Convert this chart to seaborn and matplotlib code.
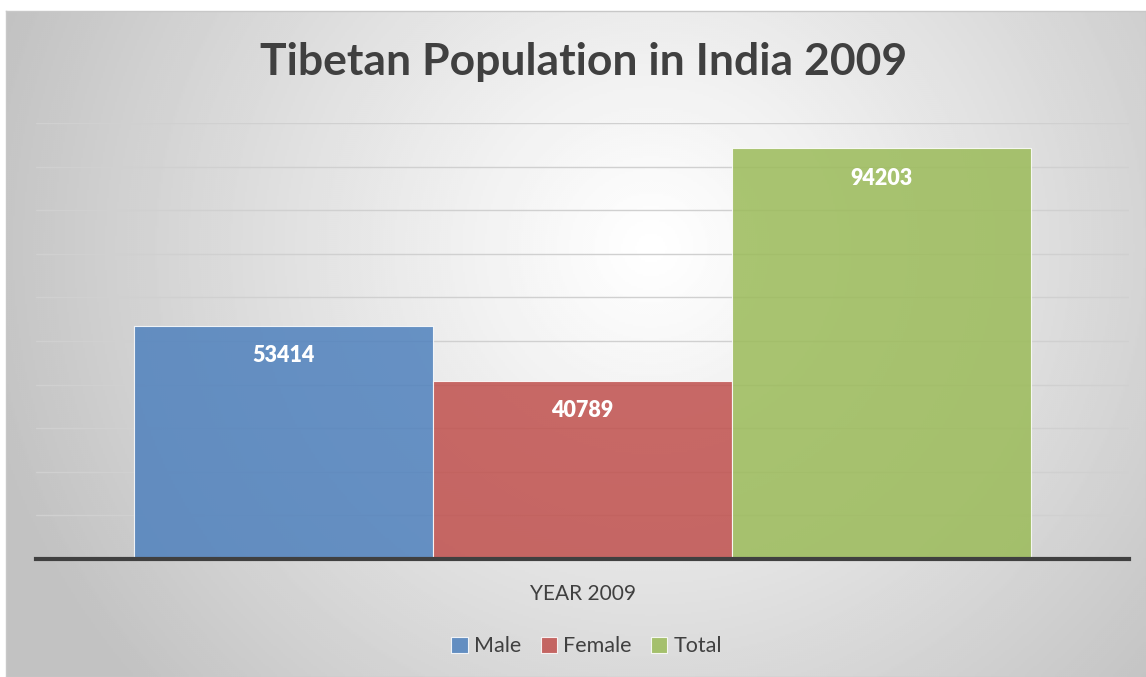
import numpy as np
import pandas as pd
import matplotlib.pyplot as plt
import seaborn as sns

# --- data ---
category = ["YEAR 2009"]
series = ["Male", "Female", "Total"]
values = [53414, 40789, 94203]
colors = ["#4F81BD", "#C0504D", "#9BBB59"]

df = pd.DataFrame({"year": category * len(series), "series": series, "population": values})

sns.set_theme(style="white")
plt.rcParams['font.family'] = ['Lato', 'DejaVu Sans']

W, H = 1146, 677
fig = plt.figure(figsize=(W / 100, H / 100), dpi=100)
fig.patch.set_facecolor("white")

# --- chart area with radial gradient ---
bg = fig.add_axes([6 / W, 0, (W - 6) / W, (H - 11) / H])
gh, gw = 333, 570
yy, xx = np.mgrid[0:gh, 0:gw]
cx, cy = 322, 118
r = np.sqrt(((xx - cx) / gw) ** 2 + ((yy - cy) / gh * 0.6) ** 2) / 0.6
shade = 1.0 - 0.24 * np.clip(r, 0, 1) ** 1.1
bg.imshow(shade, cmap="gray", vmin=0, vmax=1, aspect="auto", interpolation="bilinear")
bg.set_xticks([])
bg.set_yticks([])
for s in bg.spines.values():
    s.set_color("#c8c8c8")
    s.set_linewidth(1)

# --- main plot ---
ax = fig.add_axes([36 / W, 118 / H, (1129 - 36) / W, (559 - 123) / H])
ax.patch.set_alpha(0)

sns.barplot(data=df, x="year", y="population", hue="series", palette=colors,
            width=0.82, alpha=0.85, edgecolor="white", linewidth=0.8,
            saturation=1, ax=ax)

ax.set_ylim(0, 100000)
ax.set_xlim(-0.5, 0.5)
ax.set_yticks(np.arange(0, 100001, 10000))
ax.yaxis.grid(True, color="#d0d0d0", linewidth=1)
ax.set_axisbelow(True)
ax.tick_params(axis="y", left=False, labelleft=False)
ax.tick_params(axis="x", bottom=False, labelsize=15, labelcolor="#404040", pad=12)
ax.set_xlabel("")
ax.set_ylabel("")
for side in ["top", "right", "left"]:
    ax.spines[side].set_visible(False)
ax.spines["bottom"].set_color("#404040")
ax.spines["bottom"].set_linewidth(3)

for cont in ax.containers:
    ax.bar_label(cont, padding=-29, color="white", fontsize=15.5, fontweight="heavy")

leg = ax.legend(loc="upper center", bbox_to_anchor=(0.504, -0.133), ncol=3, frameon=False,
                fontsize=15.5, handlelength=0.75, handleheight=0.75, handletextpad=0.3,
                columnspacing=0.9)
for t in leg.get_texts():
    t.set_color("#404040")

fig.text(0.509, 1 - 62 / H, "Tibetan Population in India 2009", ha="center", va="center",
         fontsize=32, fontweight="bold", color="#404040")

fig.savefig("out.png", dpi=100)
